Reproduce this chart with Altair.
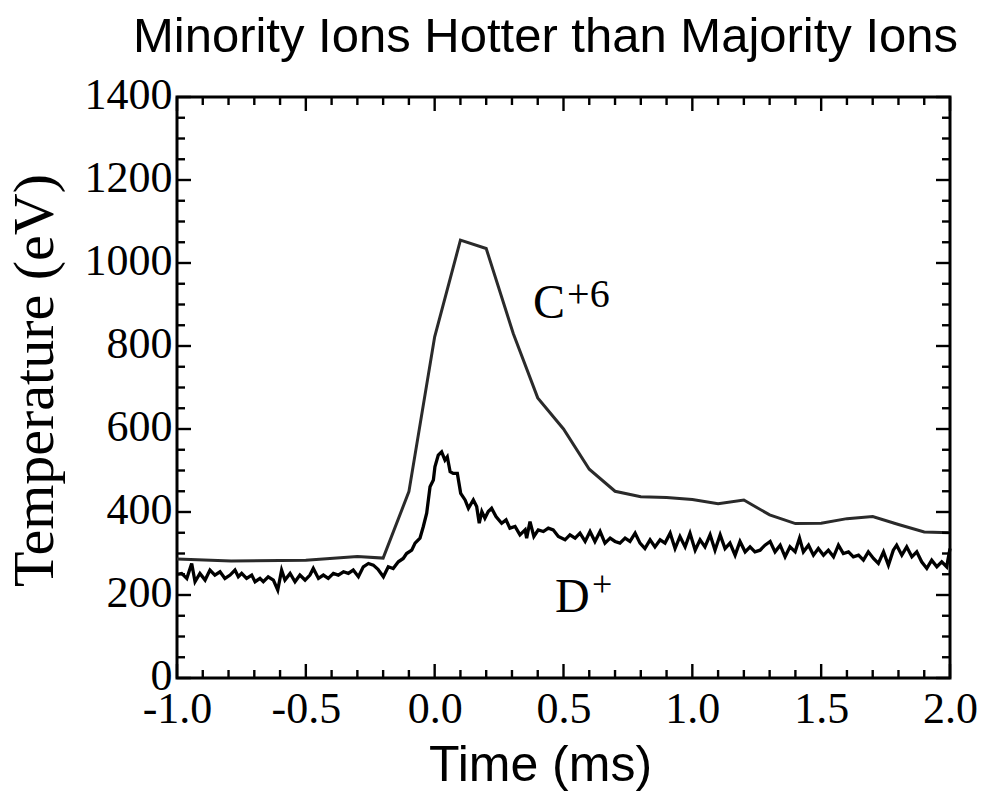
import altair as alt
import pandas as pd
import numpy as np

# ---- data ----
c_time = [-1.0, -0.79, -0.5, -0.30, -0.20, -0.10, 0.0, 0.10, 0.20, 0.305, 0.40, 0.50,
          0.60, 0.70, 0.80, 0.90, 1.00, 1.10, 1.20, 1.30, 1.40, 1.50, 1.60, 1.70,
          1.80, 1.90, 2.0]
c_temp = [287, 282, 284, 293, 289, 449, 822, 1055, 1035, 830, 675, 600,
          503, 450, 437, 435, 430, 420, 429, 393, 372, 373, 384, 389,
          370, 352, 350]

d_time = [-1.0, -0.982, -0.962, -0.943, -0.930, -0.911, -0.891, -0.872, -0.853, -0.833,
          -0.814, -0.794, -0.775, -0.762, -0.749, -0.730, -0.710, -0.697, -0.678, -0.665,
          -0.646, -0.626, -0.609, -0.594, -0.581, -0.561, -0.542, -0.523, -0.503, -0.484,
          -0.471, -0.451, -0.432, -0.413, -0.393, -0.374, -0.354, -0.335, -0.316, -0.296,
          -0.277, -0.257, -0.238, -0.220, -0.199, -0.180, -0.161, -0.141, -0.122, -0.109,
          -0.089, -0.076, -0.057, -0.044, -0.031, -0.018, -0.005, 0.001, 0.014, 0.027,
          0.040, 0.049, 0.060, 0.072, 0.088, 0.101, 0.118, 0.131, 0.150, 0.163,
          0.173, 0.183, 0.195, 0.208, 0.221, 0.238, 0.260, 0.277, 0.292, 0.312,
          0.331, 0.351, 0.357, 0.370, 0.385, 0.402, 0.422, 0.441, 0.460, 0.480,
          0.506, 0.525, 0.545, 0.564, 0.584, 0.603, 0.622, 0.642, 0.661, 0.681,
          0.700, 0.719, 0.739, 0.758, 0.778, 0.797, 0.816, 0.836, 0.855, 0.875,
          0.894, 0.914, 0.933, 0.952, 0.972, 0.991, 1.011, 1.030, 1.049, 1.069,
          1.088, 1.108, 1.127, 1.146, 1.166, 1.185, 1.205, 1.224, 1.243, 1.263,
          1.282, 1.302, 1.321, 1.341, 1.360, 1.379, 1.399, 1.416, 1.431, 1.451,
          1.470, 1.489, 1.509, 1.528, 1.548, 1.567, 1.586, 1.606, 1.625, 1.645,
          1.664, 1.683, 1.703, 1.722, 1.742, 1.761, 1.780, 1.793, 1.813, 1.832,
          1.852, 1.871, 1.890, 1.910, 1.929, 1.949, 1.968, 1.987, 2.0]
d_temp = [250, 252, 240, 276, 232, 252, 236, 260, 248, 256,
          240, 248, 260, 244, 252, 240, 248, 232, 240, 232,
          244, 236, 212, 260, 236, 252, 232, 248, 236, 248,
          264, 240, 248, 240, 252, 248, 256, 252, 260, 244,
          268, 276, 272, 262, 244, 268, 264, 280, 288, 300,
          308, 325, 337, 365, 397, 461, 477, 509, 537, 545,
          525, 533, 497, 493, 493, 445, 429, 409, 429, 413,
          373, 401, 385, 401, 409, 389, 373, 381, 361, 365,
          345, 357, 337, 377, 341, 357, 353, 361, 357, 341,
          333, 345, 337, 349, 329, 353, 329, 353, 325, 337,
          329, 325, 337, 329, 349, 325, 312, 333, 316, 333,
          325, 349, 312, 341, 316, 349, 308, 333, 316, 345,
          308, 345, 312, 325, 296, 329, 304, 316, 304, 308,
          320, 329, 304, 320, 292, 316, 304, 337, 304, 320,
          296, 312, 296, 308, 292, 320, 300, 304, 292, 296,
          284, 304, 288, 276, 304, 272, 308, 320, 296, 316,
          292, 304, 280, 264, 284, 268, 280, 268, 312]

x_major = [-1.0, -0.5, 0.0, 0.5, 1.0, 1.5, 2.0]
y_major = [0, 200, 400, 600, 800, 1000, 1200, 1400]

W, H = 773, 581
MAJ, MIN = 14, 8

c_df = pd.DataFrame({"t": c_time, "T": c_temp})
d_df = pd.DataFrame({"t": d_time, "T": d_temp})

x_minor = [round(v, 1) for v in np.arange(-1.0, 2.001, 0.1) if round(v * 10) % 5 != 0]
y_minor = [v for v in range(0, 1401, 50) if v % 200 != 0]

xs = alt.Scale(domain=[-1.0, 2.0], nice=False, zero=False)
ys = alt.Scale(domain=[0, 1400], nice=False)

x_axis = alt.Axis(
    values=x_major,
    labelExpr="datum.value < 0 ? '-' + format(abs(datum.value), '.1f') : format(datum.value, '.1f')",
    labelFont="Liberation Serif", labelFontSize=44, labelColor="black", labelPadding=9,
    ticks=False, domain=False, grid=False,
    title="Time (ms)", titleFont="Liberation Sans", titleFontSize=50, titleFontWeight="normal",
    titleColor="black", titleX=363, titleY=102, titleBaseline="alphabetic", titleAlign="center",
    labelFlush=False, labelOverlap=False,
)
y_axis = alt.Axis(
    values=y_major, format="d",
    labelFont="Liberation Serif", labelFontSize=44, labelColor="black", labelPadding=5,
    labelOffset=-2,
    ticks=False, domain=False, grid=False,
    title="Temperature (eV)", titleFont="Liberation Serif", titleFontSize=58,
    titleFontWeight="normal", titleColor="black", titleX=-125, titleY=283,
    titleBaseline="alphabetic", titleAlign="center", labelFlush=False, labelOverlap=False,
)

d_line = alt.Chart(d_df).mark_line(color="black", strokeWidth=3.3).encode(
    x=alt.X("t:Q", scale=xs, axis=x_axis),
    y=alt.Y("T:Q", scale=ys, axis=y_axis),
    order="t:Q",
)
c_line = alt.Chart(c_df).mark_line(color="#2a2a2a", strokeWidth=3).encode(
    x=alt.X("t:Q", scale=xs, axis=x_axis),
    y=alt.Y("T:Q", scale=ys, axis=y_axis),
    order="t:Q",
)

def xticks(vals, length):
    df = pd.DataFrame({"t": vals})
    bot = alt.Chart(df).mark_rule(color="black", strokeWidth=2.4).encode(
        x=alt.X("t:Q", scale=xs), y=alt.value(H), y2=alt.value(H - length))
    top = alt.Chart(df).mark_rule(color="black", strokeWidth=2.4).encode(
        x=alt.X("t:Q", scale=xs), y=alt.value(0), y2=alt.value(length))
    return [bot, top]

def yticks(vals, length):
    df = pd.DataFrame({"T": vals})
    left = alt.Chart(df).mark_rule(color="black", strokeWidth=2.4).encode(
        y=alt.Y("T:Q", scale=ys), x=alt.value(0), x2=alt.value(length))
    right = alt.Chart(df).mark_rule(color="black", strokeWidth=2.4).encode(
        y=alt.Y("T:Q", scale=ys), x=alt.value(W), x2=alt.value(W - length))
    return [left, right]

ann = pd.DataFrame({
    "t": [0.382, 0.514, 0.467, 0.611],
    "T": [867, 894, 159, 198],
    "txt": ["C", "+6", "D", "+"],
    "size": [48, 40, 48, 36],
})
labels = alt.Chart(ann).mark_text(
    font="Liberation Serif", align="left", baseline="alphabetic", color="black"
).encode(
    x=alt.X("t:Q", scale=xs),
    y=alt.Y("T:Q", scale=ys),
    text="txt:N",
    size=alt.Size("size:Q", scale=None, legend=None),
)

layers = [d_line, c_line] + xticks(x_major, MAJ) + xticks(x_minor, MIN) + \
    yticks(y_major, MAJ) + yticks(y_minor, MIN) + [labels]

chart = alt.layer(*layers).properties(
    width=W, height=H,
    title=alt.Title(
        "Minority Ions Hotter than Majority Ions",
        font="Liberation Sans", fontSize=49, fontWeight="normal", color="black",
        anchor="middle", dx=-18, offset=11,
    ),
    autosize=alt.AutoSizeParams(type="none"),
    padding={"left": 177, "top": 97, "right": 36, "bottom": 134},
    background="white",
).configure_view(stroke="black", strokeWidth=3)

chart.save("out.html", embed_options={"renderer": "svg", "actions": False})
